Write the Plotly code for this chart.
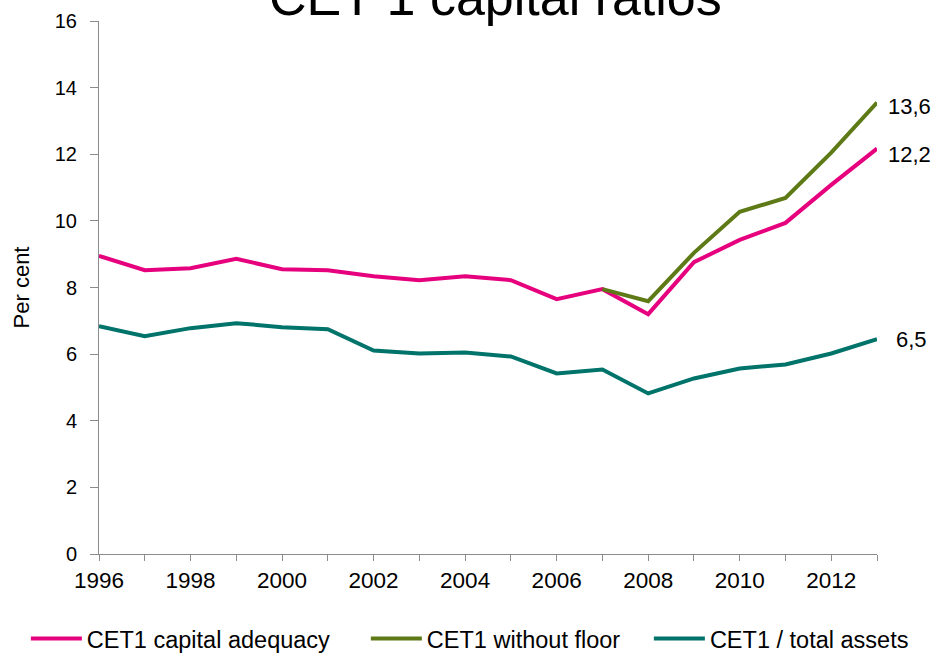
import plotly.graph_objects as go

years = list(range(1996, 2014))
cet1_capital_adequacy = [8.95, 8.52, 8.58, 8.86, 8.55, 8.52, 8.34, 8.22, 8.34, 8.22,
                         7.65, 7.95, 7.20, 8.76, 9.43, 9.94, 11.08, 12.17]
years_no_floor = list(range(2007, 2014))
cet1_without_floor = [7.95, 7.59, 9.04, 10.27, 10.69, 12.05, 13.55]
cet1_total_assets = [6.84, 6.54, 6.78, 6.93, 6.81, 6.75, 6.11, 6.02, 6.05, 5.93,
                     5.42, 5.54, 4.82, 5.27, 5.57, 5.69, 6.02, 6.45]
end_labels = ["13,6", "12,2", "6,5"]
series_names = ["CET1 capital adequacy", "CET1 without floor", "CET1 / total assets"]

PINK = "#E6007E"
OLIVE = "#5E7A16"
TEAL = "#00736A"
FONT = "Liberation Sans, Arial, sans-serif"

fig = go.Figure()
fig.add_trace(go.Scatter(x=years, y=cet1_capital_adequacy, mode="lines", legend="legend",
                         name=series_names[0], line=dict(color=PINK, width=4)))
fig.add_trace(go.Scatter(x=years_no_floor, y=cet1_without_floor, mode="lines", legend="legend2",
                         name=series_names[1], line=dict(color=OLIVE, width=4)))
fig.add_trace(go.Scatter(x=years, y=cet1_total_assets, mode="lines", legend="legend3",
                         name=series_names[2], line=dict(color=TEAL, width=4)))

ann = [
    dict(x=years_no_floor[-1], y=cet1_without_floor[-1], text=end_labels[0], xshift=9, yshift=-4),
    dict(x=years[-1], y=cet1_capital_adequacy[-1], text=end_labels[1], xshift=9, yshift=-6),
    dict(x=years[-1], y=cet1_total_assets[-1], text=end_labels[2], xshift=17, yshift=0),
]
annotations = []
for a in ann:
    annotations.append(dict(x=a["x"], y=a["y"], text=a["text"], xref="x", yref="y",
                            xanchor="left", yanchor="middle", xshift=a["xshift"], yshift=a["yshift"],
                            showarrow=False, font=dict(size=22, color="#000", family=FONT)))
annotations.append(dict(x=0.509, y=1.0445, xref="paper", yref="paper",
                        text="CET 1 capital ratios", showarrow=False,
                        xanchor="center", yanchor="middle",
                        font=dict(size=52, color="#000", family=FONT)))

def legend_at(xpos):
    return dict(orientation="h", x=xpos, xanchor="left", y=-0.159, yanchor="middle",
                font=dict(size=23.5, family=FONT, color="#000"), itemwidth=51,
                bgcolor="rgba(0,0,0,0)")

fig.update_layout(
    width=938, height=653,
    margin=dict(l=99, r=61, t=21, b=99, autoexpand=False),
    paper_bgcolor="white", plot_bgcolor="white",
    font=dict(family=FONT, color="#000"),
    showlegend=True,
    legend=legend_at(-0.094),
    legend2=legend_at(0.343),
    legend3=legend_at(0.7068),
    annotations=annotations,
)
fig.update_xaxes(range=[1996, 2013], tick0=1996, dtick=2, showgrid=False, zeroline=False,
                 showline=True, linecolor="#8c8c8c", linewidth=1,
                 ticks="outside", ticklen=6, tickcolor="#8c8c8c",
                 tickfont=dict(size=22.5, family=FONT, color="#000"),
                 minor=dict(dtick=1, tick0=1996, ticks="outside", ticklen=6, tickcolor="#8c8c8c"))
fig.update_yaxes(range=[0, 16], dtick=2, showgrid=False, zeroline=False,
                 showline=True, linecolor="#8c8c8c", linewidth=1,
                 ticks="outside", ticklen=8, tickcolor="#8c8c8c", ticklabelstandoff=9,
                 tickfont=dict(size=20, family=FONT, color="#000"),
                 title=dict(text="Per cent", font=dict(size=22, family=FONT, color="#000"), standoff=19))

fig.write_html("out.html")
